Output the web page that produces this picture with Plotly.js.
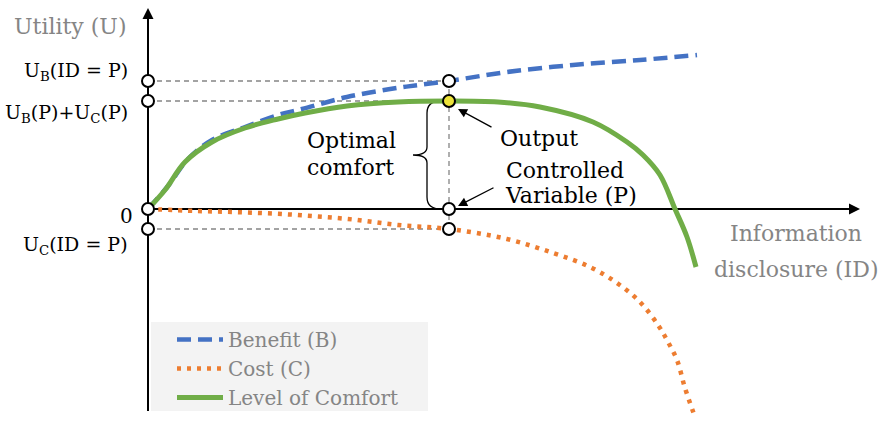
<!DOCTYPE html>
<html>
<head>
<meta charset="utf-8">
<script src="https://cdn.plot.ly/plotly-3.0.1.min.js"></script>
<style>
  body { margin: 0; background: #fff; }
  #plotDiv { width: 881px; height: 422px; }
</style>
</head>
<body>
<div id="plotDiv"></div>
<script>
// curves (ID on x, utility on y)
var benefitX = [0, 0.2, 0.4, 0.64, 0.97, 1.30, 1.54, 1.99, 2.49, 3.01, 3.59, 4.25, 4.92, 5.49];
var benefitY = [0, 0.23, 0.50, 0.69, 0.82, 0.94, 1.00, 1.12, 1.21, 1.28, 1.37, 1.44, 1.49, 1.54];

var costX = [0, 0.5, 1.0, 1.5, 2.0, 2.5, 3.01, 3.59, 4.05, 4.42, 4.69, 4.92, 5.10, 5.20, 5.29, 5.37, 5.47];
var costY = [0, -0.02, -0.035, -0.06, -0.10, -0.16, -0.20, -0.30, -0.44, -0.58, -0.74, -0.93, -1.16, -1.33, -1.51, -1.79, -2.08];

var comfortX = [0, 0.17, 0.37, 0.64, 0.97, 1.30, 1.57, 1.99, 2.5, 3.01, 3.5, 3.92, 4.45, 4.79, 4.95, 5.12, 5.27, 5.39, 5.48];
var comfortY = [0, 0.19, 0.47, 0.67, 0.81, 0.90, 0.96, 1.03, 1.07, 1.08, 1.07, 1.02, 0.87, 0.67, 0.54, 0.34, 0.0, -0.28, -0.58];

// the controlled variable and the values at it
var pX = 3.01;
var ubP = 1.28;
var comfortP = 1.08;
var ucP = -0.20;

var seriesNames = ['Benefit (B)', 'Cost (C)', 'Level of Comfort'];
var yLabels = ['U<sub>B</sub>(ID = P)', 'U<sub>B</sub>(P)+U<sub>C</sub>(P)', '0', 'U<sub>C</sub>(ID = P)'];
var yLabelVals = [ubP, comfortP, 0, ucP];

var gray = '#858585';
var serif = 'DejaVu Serif';

var benefit = {
  type: 'scatter', mode: 'lines', name: seriesNames[0],
  x: benefitX, y: benefitY,
  line: {color: '#4472c4', width: 4.5, dash: '14px,7px', shape: 'spline'}
};
var cost = {
  type: 'scatter', mode: 'lines', name: seriesNames[1],
  x: costX, y: costY,
  line: {color: '#ed7d31', width: 4.5, dash: '4px,6px', shape: 'spline'}
};
var comfort = {
  type: 'scatter', mode: 'lines', name: seriesNames[2],
  x: comfortX, y: comfortY,
  line: {color: '#70ad47', width: 5, shape: 'spline'}
};

var openPts = {
  type: 'scatter', mode: 'markers', showlegend: false, hoverinfo: 'skip',
  x: [0, 0, 0, 0, pX, pX, pX],
  y: [ubP, comfortP, 0, ucP, ubP, 0, ucP],
  marker: {size: 12, color: '#fff', line: {color: '#000', width: 2}}
};
var outPt = {
  type: 'scatter', mode: 'markers', showlegend: false, hoverinfo: 'skip',
  x: [pX], y: [comfortP],
  marker: {size: 12, color: '#ece23a', line: {color: '#000', width: 2}}
};

var dashLine = {color: gray, width: 1.3, dash: '5px,4px'};
var shapes = [
  // legend background
  {type: 'rect', xref: 'paper', yref: 'paper', layer: 'below',
   x0: 151 / 881, x1: 428 / 881, y0: 1 - 411 / 422, y1: 1 - 322 / 422,
   fillcolor: '#f3f3f3', line: {width: 0}},
  // axes
  {type: 'line', layer: 'below', x0: 0, x1: 7.05, y0: 0, y1: 0, line: {color: '#000', width: 2}},
  {type: 'line', layer: 'below', x0: 0, x1: 0, y0: -2.02, y1: 1.95, line: {color: '#000', width: 2}},
  // guide lines
  {type: 'line', layer: 'below', x0: 0, x1: pX, y0: ubP, y1: ubP, line: dashLine},
  {type: 'line', layer: 'below', x0: 0, x1: pX, y0: comfortP, y1: comfortP, line: dashLine},
  {type: 'line', layer: 'below', x0: 0, x1: pX, y0: ucP, y1: ucP, line: dashLine},
  {type: 'line', layer: 'below', x0: pX, x1: pX, y0: ucP, y1: ubP, line: dashLine},
  // brace
  {type: 'path', layer: 'below', line: {color: '#000', width: 1.3},
   path: 'M 2.93,1.08 Q 2.79,1.08 2.79,0.96 L 2.79,0.62 Q 2.79,0.54 2.65,0.54 ' +
         'Q 2.79,0.54 2.79,0.46 L 2.79,0.12 Q 2.79,0 2.93,0'}
];

function txt(t, x, y, size, color, anchor) {
  return {text: t, x: x, y: y, xref: 'x', yref: 'y', showarrow: false,
          xanchor: anchor || 'left', yanchor: 'middle',
          font: {family: serif, size: size, color: color}};
}
function arrow(x, y, ax, ay) {
  return {text: '', x: x, y: y, ax: ax, ay: ay, xref: 'x', yref: 'y', axref: 'x', ayref: 'y',
          showarrow: true, arrowhead: 2, arrowsize: 1.4, arrowwidth: 1.3, arrowcolor: '#000', standoff: 0};
}

var annotations = [
  // axis arrowheads
  {text: '', x: 7.12, y: 0, ax: 6.95, ay: 0, xref: 'x', yref: 'y', axref: 'x', ayref: 'y',
   showarrow: true, arrowhead: 2, arrowsize: 1.1, arrowwidth: 2, arrowcolor: '#000', standoff: 0},
  {text: '', x: 0, y: 2.01, ax: 0, ay: 1.85, xref: 'x', yref: 'y', axref: 'x', ayref: 'y',
   showarrow: true, arrowhead: 2, arrowsize: 1.1, arrowwidth: 2, arrowcolor: '#000', standoff: 0},
  txt('Utility (U)', -0.78, 1.83, 22, gray, 'center'),
  txt('Information', 6.48, -0.24, 22, gray, 'center'),
  txt('disclosure (ID)', 6.48, -0.60, 22, gray, 'center'),
  txt('Optimal', 1.57, 0.69, 22, '#000'),
  txt('comfort', 1.57, 0.42, 22, '#000'),
  txt('Output', 3.50, 0.71, 22, '#000'),
  txt('Controlled', 3.56, 0.39, 22, '#000'),
  txt('Variable (P)', 3.55, 0.14, 22, '#000'),
  arrow(3.10, 1.00, 3.45, 0.81),
  arrow(3.10, 0.03, 3.47, 0.22)
];

var yShift = [10, -12, -7, -16];
for (var i = 0; i < yLabels.length; i++) {
  annotations.push({text: yLabels[i], x: 0, y: yLabelVals[i], xref: 'x', yref: 'y',
    showarrow: false, xanchor: 'right', yanchor: 'middle', xshift: i === 2 ? -13 : -18, yshift: yShift[i],
    font: {family: serif, size: i === 2 ? 20 : 19, color: '#000'}});
}

var layout = {
  width: 881, height: 422,
  margin: {l: 0, r: 0, t: 0, b: 0, autoexpand: false},
  paper_bgcolor: '#fff', plot_bgcolor: '#fff',
  font: {family: serif},
  xaxis: {range: [-1.48, 7.33], visible: false, fixedrange: true},
  yaxis: {range: [-2.13, 2.09], visible: false, fixedrange: true},
  showlegend: true,
  legend: {x: 172 / 881, y: 1 - 320 / 422, xanchor: 'left', yanchor: 'top',
           bgcolor: 'rgba(0,0,0,0)', itemwidth: 46, tracegroupgap: 0,
           font: {family: serif, size: 20, color: gray}},
  shapes: shapes,
  annotations: annotations
};

Plotly.newPlot('plotDiv', [benefit, cost, comfort, openPts, outPt], layout, {displayModeBar: false, staticPlot: true});
</script>
</body>
</html>
